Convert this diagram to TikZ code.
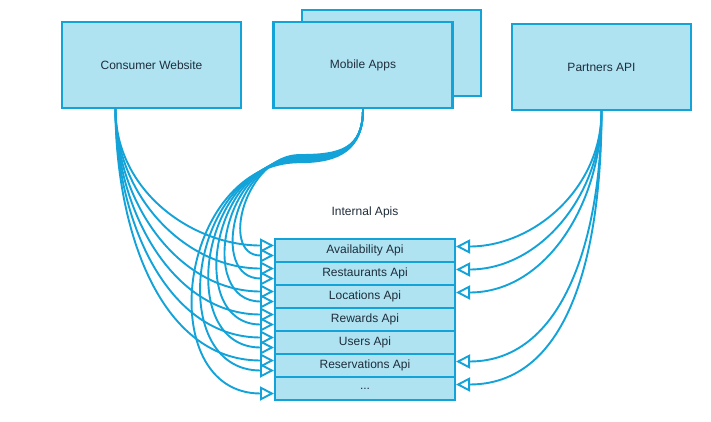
\documentclass[tikz,border=0pt]{standalone}
\usepackage{fontspec}
\setmainfont{Liberation Sans}
\usetikzlibrary{arrows.meta}
\definecolor{boxfill}{HTML}{B0E3F2}
\definecolor{boxline}{HTML}{13A3D8}
\definecolor{labeltext}{HTML}{1E2D3A}
\tikzset{
  appbox/.style={draw=boxline, line width=2.2pt, fill=boxfill, text=labeltext,
    minimum width=179pt, minimum height=86pt, align=center}}

\begin{document}
\begin{tikzpicture}[x=1pt, y=1pt, font=\fontsize{12}{14}\selectfont,
      apirow/.style={draw=boxline, line width=2pt, fill=boxfill, text=labeltext,
        minimum width=180pt, minimum height=23pt, inner sep=0pt},
      call/.style={-{Triangle[open, length=14pt, width=14pt]}, line width=1.9pt, boxline}]
      \useasboundingbox (0,0) rectangle (711,-422);
      \node[appbox] (cw) at (151.5,-65) {Consumer Website};
      \node[appbox] (mab) at (391.5,-53) {};
      \node[appbox] (ma) at (363,-65) {Mobile Apps};
      \node[appbox] (pa) at (601.5,-67) {Partners API};
      \node[text=labeltext] (ia) at (365,-212) {Internal Apis};
      \foreach \t [count=\i from 0] in {Availability Api, Restaurants Api,
          Locations Api, Rewards Api, Users Api, Reservations Api}
        \node[apirow] (r\i) at (365,{-250.5-23*\i}) {\t};
      \node[apirow] (r6) at (365,-388.5) {...};
      \coordinate (mbend) at (300,-155);
      % consumer website calls
      \foreach \i in {0,...,5}
        \draw[call] ([xshift=-36pt]cw.south) to[out=-90, in=180] ([yshift=5pt]r\i.west);
      % mobile apps calls
      \foreach \i in {0,...,6}
        \draw[call] (ma.south) .. controls +(0,-40) and +(40,0) .. ([yshift={-1.2pt*\i}]mbend)
          to[out=180, in=180, looseness=1.35] ([yshift=-5pt]r\i.west);
      % partners calls
      \foreach \i in {0,1,2,5,6}
        \draw[call] (pa.south) to[out=-90, in=0] ([yshift=4pt]r\i.east);
    \end{tikzpicture}
\end{document}
